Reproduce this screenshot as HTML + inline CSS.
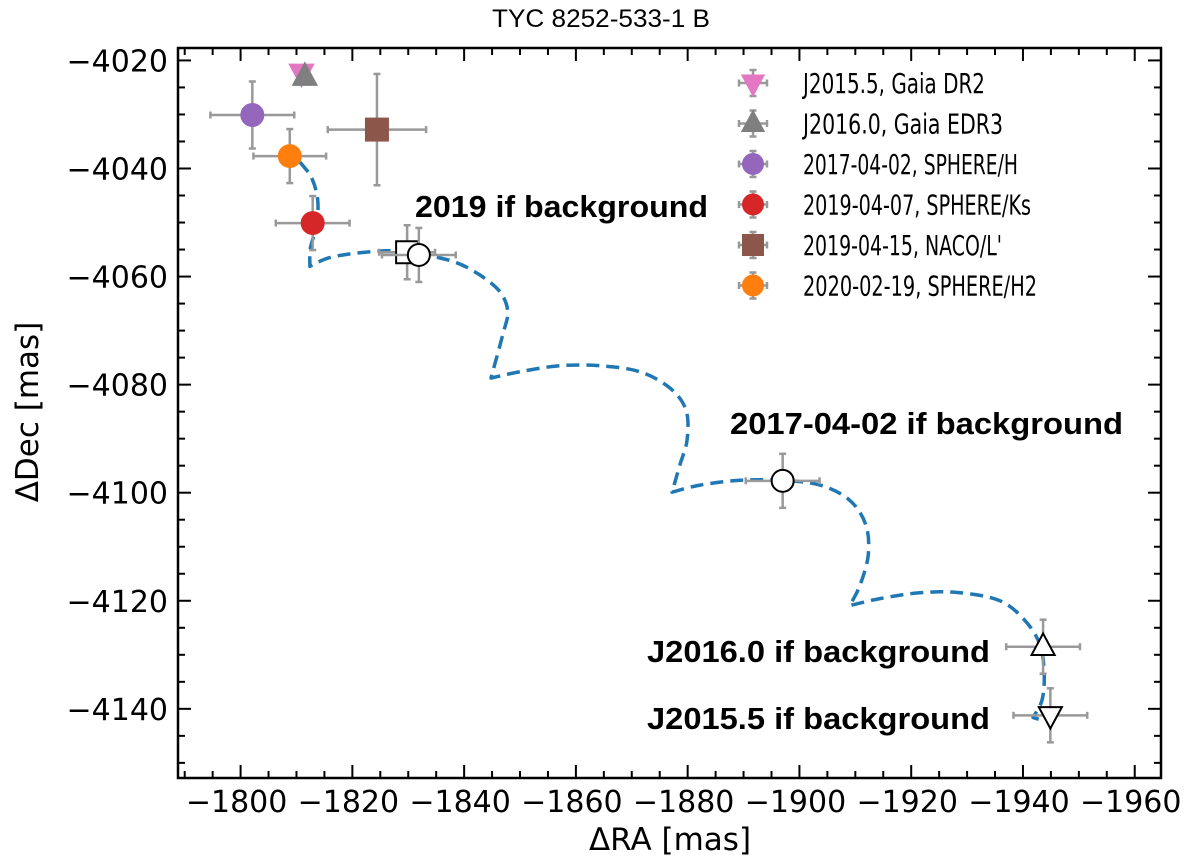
<!DOCTYPE html>
<html><head><meta charset="utf-8"><style>
body{margin:0;background:#fff}
svg{display:block}
text{font-family:"DejaVu Sans","Liberation Sans",sans-serif;fill:#000}
</style></head><body>
<svg id="chart" width="1200" height="867" viewBox="0 0 1200 867" xmlns="http://www.w3.org/2000/svg">
<text x="601" y="27" text-anchor="middle" textLength="218" lengthAdjust="spacingAndGlyphs" style="font-family:'Liberation Sans',sans-serif;font-size:25px">TYC 8252-533-1 B</text>
<g id="plot"></g>
<text x="670" y="850" text-anchor="middle" font-size="31">ΔRA [mas]</text>
<text transform="translate(38,412) rotate(-90)" text-anchor="middle" font-size="31">ΔDec [mas]</text>
</svg>
<script>
const xTicks=[-1800,-1820,-1840,-1860,-1880,-1900,-1920,-1940,-1960];
const yTicks=[-4020,-4040,-4060,-4080,-4100,-4120,-4140];
const trackRA=[-1810.6,-1812.7,-1813.8,-1813.6,-1812.5,-1812.4,-1815.9,-1821.3,-1827.6,-1832.1,-1838.3,-1842.8,-1846.4,-1847.8,-1846.9,-1844.8,-1850.0,-1857.1,-1864.3,-1871.4,-1876.8,-1879.7,-1879.9,-1878.6,-1877.2,-1882.2,-1889.3,-1896.5,-1903.7,-1909.0,-1911.9,-1912.3,-1910.8,-1909.0,-1914.4,-1921.6,-1928.7,-1935.9,-1940.4,-1943.1,-1943.8,-1943.4,-1941.8,-1943.4];
const trackDec=[-4038.8,-4041.7,-4045.8,-4050.4,-4054.7,-4058.1,-4056.5,-4055.6,-4055.2,-4055.8,-4057.3,-4059.7,-4062.8,-4066.5,-4070.8,-4078.8,-4077.6,-4076.5,-4076.5,-4077.6,-4080.6,-4084.7,-4090.2,-4094.9,-4099.9,-4098.6,-4097.7,-4097.7,-4098.6,-4101.4,-4106.0,-4111.6,-4117.2,-4120.9,-4119.6,-4118.5,-4118.5,-4120.0,-4123.7,-4128.3,-4133.8,-4138.4,-4141.6,-4142.1];
const cuspIdx=[5,15,24,33,42];
const obsLabels=["J2015.5, Gaia DR2","J2016.0, Gaia EDR3","2017-04-02, SPHERE/H","2019-04-07, SPHERE/Ks","2019-04-15, NACO/L'","2020-02-19, SPHERE/H2"];
const obsRA=[-1810.9,-1811.5,-1802.1,-1812.9,-1824.4,-1808.8];
const obsDec=[-4022.3,-4023.0,-4030.1,-4050.1,-4032.8,-4037.7];
const obsRAerr=[0,0,7.5,6.6,8.8,6.5];
const obsDecErr=[0,0,6.2,5.0,10.3,5.0];
const bgRA=[-1829.8,-1831.9,-1897.0,-1943.6,-1944.9];
const bgDec=[-4055.5,-4056.0,-4097.8,-4128.5,-4141.2];
const bgRAerr=[5,6.6,6.6,6.6,6.6];
const bgDecErr=[5,5,5,5,5];

const L=178,R=1161,T=48,B=778;
const X0=-1788.8,X1=-1964.7,Y0=-4017.7,Y1=-4152.8;
const sx=v=>L+(v-X0)/(X1-X0)*(R-L);
const sy=v=>T+(v-Y0)/(Y1-Y0)*(B-T);
const NS="http://www.w3.org/2000/svg";
const g=document.getElementById('plot');
function mk(tag,attrs,parent){const e=document.createElementNS(NS,tag);for(const k in attrs)e.setAttribute(k,attrs[k]);(parent||g).appendChild(e);return e;}
const colors=['#e377c2','#7f7f7f','#9467bd','#d62728','#8c564b','#ff7f0e'];
const shapes=['tri-down','tri-up','circle','circle','square','circle'];
function marker(shape,x,y,fill,stroke,r,parent){
  if(shape==='circle')return mk('circle',{cx:x,cy:y,r:r,fill:fill,stroke:stroke,'stroke-width':2},parent);
  if(shape==='square')return mk('rect',{x:x-r,y:y-r,width:2*r,height:2*r,fill:fill,stroke:stroke,'stroke-width':2},parent);
  if(shape==='tri-up')return mk('polygon',{points:`${x},${y-r*1.2} ${x-r*1.05},${y+r*0.75} ${x+r*1.05},${y+r*0.75}`,fill:fill,stroke:stroke,'stroke-width':2},parent);
  return mk('polygon',{points:`${x},${y+r*1.2} ${x-r*1.05},${y-r*0.75} ${x+r*1.05},${y-r*0.75}`,fill:fill,stroke:stroke,'stroke-width':2},parent);
}
function errbar(x,y,dx,dy,parent){
  const c='#999',w=2.5;
  if(dx>0){mk('line',{x1:x-dx,y1:y,x2:x+dx,y2:y,stroke:c,'stroke-width':w},parent);
    mk('line',{x1:x-dx,y1:y-3.5,x2:x-dx,y2:y+3.5,stroke:c,'stroke-width':w},parent);
    mk('line',{x1:x+dx,y1:y-3.5,x2:x+dx,y2:y+3.5,stroke:c,'stroke-width':w},parent);}
  if(dy>0){mk('line',{x1:x,y1:y-dy,x2:x,y2:y+dy,stroke:c,'stroke-width':w},parent);
    mk('line',{x1:x-3.5,y1:y-dy,x2:x+3.5,y2:y-dy,stroke:c,'stroke-width':w},parent);
    mk('line',{x1:x-3.5,y1:y+dy,x2:x+3.5,y2:y+dy,stroke:c,'stroke-width':w},parent);}
}
for(let v=-1790;v>=-1960;v-=5){const x=sx(v);if(x<L+1||x>R-1)continue;const len=v%20===0?13:7;
  const t1=mk('line',{x1:x,y1:B,x2:x,y2:B-len,stroke:'#000','stroke-width':2});
  
  mk('line',{x1:x,y1:T,x2:x,y2:T+len,stroke:'#000','stroke-width':2});}
for(let v=-4020;v>=-4150;v-=5){const y=sy(v);if(y<T+1||y>B-1)continue;const len=v%20===0?13:7;
  const t1=mk('line',{x1:L,y1:y,x2:L+len,y2:y,stroke:'#000','stroke-width':2});
  
  mk('line',{x1:R,y1:y,x2:R-len,y2:y,stroke:'#000','stroke-width':2});}
xTicks.forEach(v=>{const t=mk('text',{x:sx(v)-4,y:812,'text-anchor':'middle','font-size':30});t.textContent='\u2212'+Math.abs(v);
  });
yTicks.forEach(v=>{const t=mk('text',{x:168,y:sy(v)+11,'text-anchor':'end','font-size':30});t.textContent='\u2212'+Math.abs(v);
  });
// smooth track with cusps (Catmull-Rom per segment)
const P=trackRA.map((v,i)=>[sx(v),sy(trackDec[i])]);
let d='M'+P[0][0].toFixed(1)+','+P[0][1].toFixed(1);
const bounds=[0,...cuspIdx];if(bounds[bounds.length-1]!==P.length-1)bounds.push(P.length-1);
for(let s=0;s<bounds.length-1;s++){const a=bounds[s],b=bounds[s+1];
  for(let i=a;i<b;i++){const p0=P[Math.max(i-1,a)],p1=P[i],p2=P[i+1],p3=P[Math.min(i+2,b)];
    const c1=[p1[0]+(p2[0]-p0[0])/6,p1[1]+(p2[1]-p0[1])/6],c2=[p2[0]-(p3[0]-p1[0])/6,p2[1]-(p3[1]-p1[1])/6];
    d+=`C${c1[0].toFixed(1)},${c1[1].toFixed(1)} ${c2[0].toFixed(1)},${c2[1].toFixed(1)} ${p2[0].toFixed(1)},${p2[1].toFixed(1)}`;}}
const tr=mk('path',{d:d,fill:'none',stroke:'#1f77b4','stroke-width':3.5,'stroke-dasharray':'13,7','stroke-linejoin':'round'});


const bgShapes=['square','circle','circle','tri-up','tri-down'];
bgRA.forEach((v,i)=>{const x=sx(v),y=sy(bgDec[i]);
  const gg=mk('g',{});
  
  
  errbar(x,y,bgRAerr[i]/(X0-X1)*(R-L),bgDecErr[i]/(Y0-Y1)*(B-T),gg);
  marker(bgShapes[i],x,y,'#fff','#000',11,gg);});
obsRA.forEach((v,i)=>{const x=sx(v),y=sy(obsDec[i]);
  const gg=mk('g',{});
  
  
  errbar(x,y,obsRAerr[i]/(X0-X1)*(R-L),obsDecErr[i]/(Y0-Y1)*(B-T),gg);
  marker(shapes[i],x,y,colors[i],colors[i],11,gg);});
const fr=mk('rect',{x:L,y:T,width:R-L,height:B-T,fill:'none',stroke:'#000','stroke-width':2.5});


const ann=[["2019 if background",415,217,293],["2017-04-02 if background",730,434,393],["J2016.0 if background",647,662,343],["J2015.5 if background",647,729,343]];
ann.forEach(a=>{const t=mk('text',{x:a[1],y:a[2],'font-size':31,'font-weight':'bold',textLength:a[3],lengthAdjust:'spacingAndGlyphs',style:"font-family:'Liberation Sans',sans-serif"});
  t.textContent=a[0];
  
  });
const legW=[182,200,215,228,199,234];
obsLabels.forEach((lab,i)=>{const y=83+i*40.5;
  const gg=mk('g',{});
  
  
  errbar(753,y,14,13,gg);
  marker(shapes[i],753,y,colors[i],colors[i],10,gg);
  const t=mk('text',{x:803,y:y+10,'font-size':28,textLength:legW[i],lengthAdjust:'spacingAndGlyphs'},gg);t.textContent=lab;});
</script>
</body></html>
